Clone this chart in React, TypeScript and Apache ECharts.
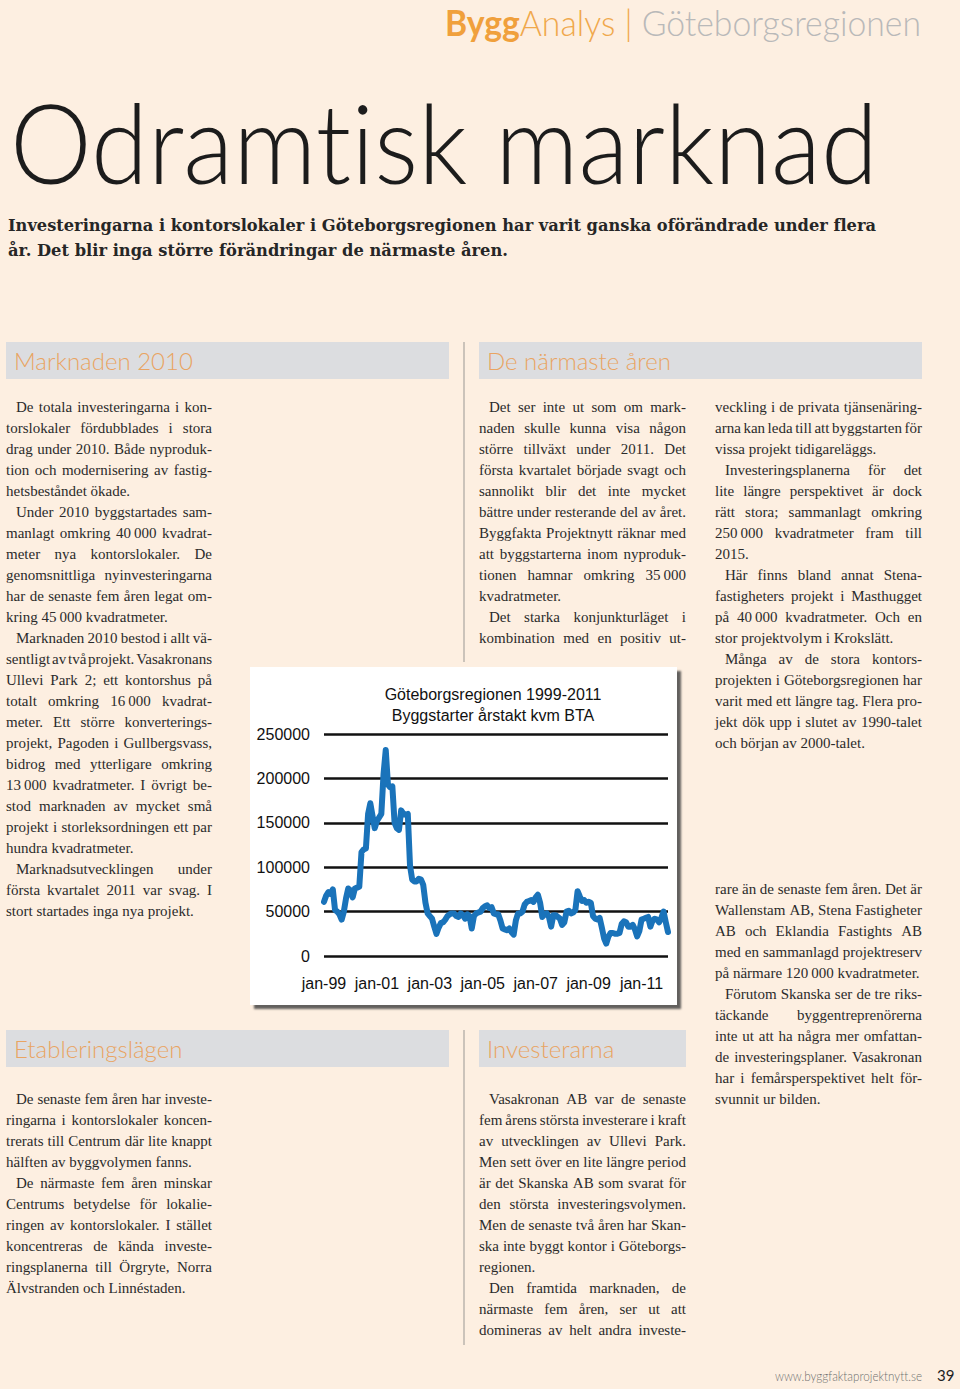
import React, { useEffect, useLayoutEffect, useRef } from "react";
import * as echarts from "echarts";

// ---------- Chart data ----------
const MONTH_NAMES = ["jan", "feb", "mar", "apr", "maj", "jun", "jul", "aug", "sep", "okt", "nov", "dec"];
const YEARS = ["99", "00", "01", "02", "03", "04", "05", "06", "07", "08", "09", "10", "11", "12"];
const CHART_TITLE = "Göteborgsregionen 1999-2011";
const CHART_SUBTITLE = "Byggstarter årstakt kvm BTA";
const Y_MIN = 0;
const Y_MAX = 250000;
const Y_STEP = 50000;
const LABEL_EVERY = 24; // a tick label every second January

// Byggstarter, årstakt kvm BTA, monthly from jan-99
const STARTS = [
  61000, 68000, 72000, 70000, 75000, 52000, 50000, 47000, 41000, 50000, 65000, 76000,
  74000, 66000, 76000, 77000, 78000, 117000, 120000, 121000, 160000, 172000, 158000, 144000,
  152000, 156000, 160000, 205000, 232000, 193000, 190000, 191000, 150000, 144000, 142000, 164000,
  160000, 159000, 160000, 102000, 86000, 84000, 84000, 87000, 86000, 80000, 60000, 48000,
  45000, 42000, 33000, 25000, 32000, 37000, 38000, 41000, 45000, 47000, 48000, 48000,
  45000, 44000, 48000, 46000, 42000, 47000, 45000, 31000, 45000, 48000, 49000, 50000,
  54000, 56000, 57000, 54000, 55000, 48000, 47000, 47000, 40000, 31000, 30000, 29000,
  31000, 27000, 24000, 40000, 48000, 48000, 50000, 58000, 61000, 62000, 63000, 61000,
  66000, 69000, 60000, 44000, 47000, 48000, 44000, 33000, 46000, 46000, 44000, 42000,
  35000, 38000, 50000, 51000, 48000, 49000, 52000, 73000, 67000, 62000, 63000, 60000,
  61000, 60000, 45000, 42000, 41000, 43000, 32000, 20000, 14000, 22000, 26000, 26000,
  25000, 25000, 26000, 36000, 39000, 38000, 33000, 33000, 35000, 30000, 22000, 28000,
  41000, 42000, 43000, 44000, 33000, 40000, 42000, 41000, 38000, 43000, 50000, 38000,
  27000,
];

const CATEGORIES: string[] = [];
YEARS.forEach((y) => MONTH_NAMES.forEach((m) => CATEGORIES.push(m + "-" + y)));

// ---------- Page text ----------
// "\t" at start = indented first line, "¶" at end = paragraph end (not justified)
const COL1_TOP = [
  "\tDe totala investeringarna i kon-",
  "torslokaler fördubblades i stora",
  "drag under 2010. Både nyproduk-",
  "tion och modernisering av fastig-",
  "hetsbeståndet ökade.¶",
  "\tUnder 2010 byggstartades sam-",
  "manlagt omkring 40\u2009000 kvadrat-",
  "meter nya kontorslokaler. De",
  "genomsnittliga nyinvesteringarna",
  "har de senaste fem åren legat om-",
  "kring 45\u2009000 kvadratmeter.¶",
  "\tMarknaden 2010 bestod i allt vä-",
  "sentligt av två projekt. Vasakronans",
  "Ullevi Park 2; ett kontorshus på",
  "totalt omkring 16\u2009000 kvadrat-",
  "meter. Ett större konverterings-",
  "projekt, Pagoden i Gullbergsvass,",
  "bidrog med ytterligare omkring",
  "13\u2009000 kvadratmeter. I övrigt be-",
  "stod marknaden av mycket små",
  "projekt i storleksordningen ett par",
  "hundra kvadratmeter.¶",
  "\tMarknadsutvecklingen under",
  "första kvartalet 2011 var svag. I",
  "stort startades inga nya projekt.¶",
];

const COL2_TOP = [
  "\tDet ser inte ut som om mark-",
  "naden skulle kunna visa någon",
  "större tillväxt under 2011. Det",
  "första kvartalet började svagt och",
  "sannolikt blir det inte mycket",
  "bättre under resterande del av året.",
  "Byggfakta Projektnytt räknar med",
  "att byggstarterna inom nyproduk-",
  "tionen hamnar omkring 35\u2009000",
  "kvadratmeter.¶",
  "\tDet starka konjunkturläget i",
  "kombination med en positiv ut-",
];

const COL3_TOP = [
  "veckling i de privata tjänsenäring-",
  "arna kan leda till att byggstarten för",
  "vissa projekt tidigareläggs.¶",
  "\tInvesteringsplanerna för det",
  "lite längre perspektivet är dock",
  "rätt stora; sammanlagt omkring",
  "250\u2009000 kvadratmeter fram till",
  "2015.¶",
  "\tHär finns bland annat Stena-",
  "fastigheters projekt i Masthugget",
  "på 40\u2009000 kvadratmeter. Och en",
  "stor projektvolym i Krokslätt.¶",
  "\tMånga av de stora kontors-",
  "projekten i Göteborgsregionen har",
  "varit med ett längre tag. Flera pro-",
  "jekt dök upp i slutet av 1990-talet",
  "och början av 2000-talet.¶",
];

const COL3_BOTTOM = [
  "rare än de senaste fem åren. Det är",
  "Wallenstam AB, Stena Fastigheter",
  "AB och Eklandia Fastights AB",
  "med en sammanlagd projektreserv",
  "på närmare 120\u2009000 kvadratmeter.¶",
  "\tFörutom Skanska ser de tre riks-",
  "täckande byggentreprenörerna",
  "inte ut att ha några mer omfattan-",
  "de investeringsplaner. Vasakronan",
  "har i femårsperspektivet helt för-",
  "svunnit ur bilden.¶",
];

const COL1_BOTTOM = [
  "\tDe senaste fem åren har investe-",
  "ringarna i kontorslokaler koncen-",
  "trerats till Centrum där lite knappt",
  "hälften av byggvolymen fanns.¶",
  "\tDe närmaste fem åren minskar",
  "Centrums betydelse för lokalie-",
  "ringen av kontorslokaler. I stället",
  "koncentreras de kända investe-",
  "ringsplanerna till Örgryte, Norra",
  "Älvstranden och Linnéstaden.¶",
];

const COL2_BOTTOM = [
  "\tVasakronan AB var de senaste",
  "fem årens största investerare i kraft",
  "av utvecklingen av Ullevi Park.",
  "Men sett över en lite längre period",
  "är det Skanska AB som svarat för",
  "den största investeringsvolymen.",
  "Men de senaste två åren har Skan-",
  "ska inte byggt kontor i Göteborgs-",
  "regionen.¶",
  "\tDen framtida marknaden, de",
  "närmaste fem åren, ser ut att",
  "domineras av helt andra investe-",
];

const LEAD_1 = "Investeringarna i kontorslokaler i Göteborgsregionen har varit ganska oförändrade under flera";
const LEAD_2 = "år. Det blir inga större förändringar de närmaste åren.";

const BG = "#fdefe1";
const ORANGE = "#e9a462";
const BAR_GRAY = "#dcdde0";
const TEXT = "#2b2b2b";
const SERIF = "'Liberation Serif', 'Times New Roman', serif";
const GEO = "Lato, 'Open Sans', sans-serif";
const LINE_H = 21;

function FitText({ target, style, children }: { target: number; style: React.CSSProperties; children: React.ReactNode }) {
  const ref = useRef<HTMLSpanElement>(null);
  useLayoutEffect(() => {
    const el = ref.current;
    if (!el) return;
    el.style.transform = "none";
    const w = el.getBoundingClientRect().width;
    if (w > 0) el.style.transform = `scaleX(${target / w})`;
  }, [target]);
  return (
    <span
      ref={ref}
      style={{ display: "inline-block", whiteSpace: "nowrap", transformOrigin: "left top", fontVariantLigatures: "none", ...style }}
    >
      {children}
    </span>
  );
}

function Column({ lines, x, y, width }: { lines: string[]; x: number; y: number; width: number }) {
  return (
    <div style={{ position: "absolute", left: x, top: y, width, fontFamily: SERIF, fontSize: 15, color: TEXT }}>
      {lines.map((raw, i) => {
        const indent = raw.startsWith("\t");
        const end = raw.endsWith("¶");
        const txt = raw.replace(/^\t/, "").replace(/¶$/, "");
        const pad = indent ? 10 : 0;
        if (end) {
          return (
            <div key={i} style={{ height: LINE_H, lineHeight: LINE_H + "px", whiteSpace: "nowrap", paddingLeft: pad }}>
              {txt}
            </div>
          );
        }
        const words = txt.split(" ");
        return (
          <div
            key={i}
            style={{
              height: LINE_H,
              lineHeight: LINE_H + "px",
              whiteSpace: "nowrap",
              paddingLeft: pad,
              display: "flex",
              justifyContent: "space-between",
            }}
          >
            {words.map((w, j) => (
              <span key={j}>{w}</span>
            ))}
          </div>
        );
      })}
    </div>
  );
}

function SectionBar({ x, y, w, label }: { x: number; y: number; w: number; label: string }) {
  return (
    <div
      style={{
        position: "absolute",
        left: x,
        top: y,
        width: w,
        height: 37,
        background: BAR_GRAY,
        color: ORANGE,
        fontFamily: GEO,
        fontWeight: 300,
        fontSize: 24,
        lineHeight: "37px",
        paddingLeft: 8,
        boxSizing: "border-box",
        whiteSpace: "nowrap",
      }}
    >
      {label}
    </div>
  );
}

function Chart() {
  const ref = useRef<HTMLDivElement>(null);
  useEffect(() => {
    if (!ref.current) return;
    const chart = echarts.init(ref.current, null, { renderer: "svg" });
    const font = "'Liberation Sans', Arial, sans-serif";
    chart.setOption({
      animation: false,
      backgroundColor: "#ffffff",
      title: {
        text: CHART_TITLE + "\n" + CHART_SUBTITLE,
        left: 238,
        top: 12,
        textAlign: "center",
        textStyle: { fontFamily: font, fontSize: 16, fontWeight: "normal", color: "#111", lineHeight: 21 },
      },
      grid: { left: 74, right: 9, top: 67, bottom: 49 },
      xAxis: {
        type: "category",
        data: CATEGORIES.slice(0, STARTS.length),
        boundaryGap: false,
        axisLine: { show: false },
        axisTick: { show: false },
        splitLine: { show: false },
        axisLabel: {
          interval: (idx: number) => idx % LABEL_EVERY === 0,
          margin: 19,
          fontSize: 16,
          color: "#111",
          fontFamily: font,
          hideOverlap: false,
        },
      },
      yAxis: {
        type: "value",
        min: Y_MIN,
        max: Y_MAX,
        interval: Y_STEP,
        axisLine: { show: false },
        axisTick: { show: false },
        axisLabel: {
          margin: 14,
          fontSize: 16,
          color: "#111",
          fontFamily: font,
          formatter: (v: number) => String(v),
        },
        splitLine: { lineStyle: { color: "#111", width: 2.5 } },
      },
      series: [
        {
          type: "line",
          data: STARTS,
          showSymbol: false,
          lineStyle: { color: "#1a73ba", width: 6, join: "round", cap: "round" },
          z: 3,
        },
      ],
    });
    return () => chart.dispose();
  }, []);
  return (
    <div
      ref={ref}
      style={{
        position: "absolute",
        left: 250,
        top: 667,
        width: 427,
        height: 338,
        background: "#fff",
        boxShadow: "4px 4px 2px rgba(70,70,70,0.85)",
      }}
    />
  );
}

export default function App() {
  return (
    <div style={{ position: "relative", width: 960, height: 1389, background: BG, overflow: "hidden" }}>
      <style>{"body{margin:0}"}</style>

      {/* Header */}
      <div style={{ position: "absolute", left: 445, top: 2, height: 40, fontFamily: GEO, fontSize: 36, lineHeight: "40px" }}>
        <FitText target={476} style={{}}>
          <span style={{ color: "#f0a03c", fontWeight: 700 }}>Bygg</span>
          <span style={{ color: "#f0a84c", fontWeight: 300 }}>Analys</span>
          <span style={{ color: "#f0a84c", fontWeight: 300 }}> | </span>
          <span style={{ color: "#b9b9b9", fontWeight: 300 }}>Göteborgsregionen</span>
        </FitText>
      </div>

      {/* Title */}
      <div style={{ position: "absolute", left: 10, top: 86, fontFamily: GEO, fontWeight: 300, fontSize: 111, lineHeight: "111px", color: "#1c1c1c" }}>
        <FitText target={868} style={{}}>Odramtisk marknad</FitText>
      </div>

      {/* Lead */}
      <div style={{ position: "absolute", left: 8, top: 213, fontFamily: "'DejaVu Serif', serif", fontWeight: 700, fontSize: 17, color: "#262626" }}>
        <div style={{ height: 25, lineHeight: "25px" }}>
          <FitText target={868} style={{}}>{LEAD_1}</FitText>
        </div>
        <div style={{ height: 25, lineHeight: "25px" }}>
          <FitText target={500} style={{}}>{LEAD_2}</FitText>
        </div>
      </div>

      {/* Section bars */}
      <SectionBar x={6} y={342} w={443} label="Marknaden 2010" />
      <SectionBar x={479} y={342} w={443} label="De närmaste åren" />
      <SectionBar x={6} y={1030} w={443} label="Etableringslägen" />
      <SectionBar x={479} y={1030} w={207} label="Investerarna" />

      {/* Dividers */}
      <div style={{ position: "absolute", left: 463, top: 342, width: 1.5, height: 320, background: "#cbc3ba" }} />
      <div style={{ position: "absolute", left: 463, top: 1030, width: 1.5, height: 315, background: "#cbc3ba" }} />

      {/* Text columns */}
      <Column lines={COL1_TOP} x={6} y={397} width={206} />
      <Column lines={COL2_TOP} x={479} y={397} width={207} />
      <Column lines={COL3_TOP} x={715} y={397} width={207} />
      <Column lines={COL3_BOTTOM} x={715} y={879} width={207} />
      <Column lines={COL1_BOTTOM} x={6} y={1089} width={206} />
      <Column lines={COL2_BOTTOM} x={479} y={1089} width={207} />

      <Chart />

      {/* Footer */}
      <div style={{ position: "absolute", left: 775, top: 1368, fontFamily: GEO, fontWeight: 300, fontSize: 13, lineHeight: "16px", color: "#6f6f6f" }}>
        <FitText target={147} style={{}}>www.byggfaktaprojektnytt.se</FitText>
      </div>
      <div style={{ position: "absolute", left: 937, top: 1366, fontFamily: GEO, fontSize: 15, lineHeight: "18px", color: "#222", whiteSpace: "nowrap" }}>39</div>
    </div>
  );
}
